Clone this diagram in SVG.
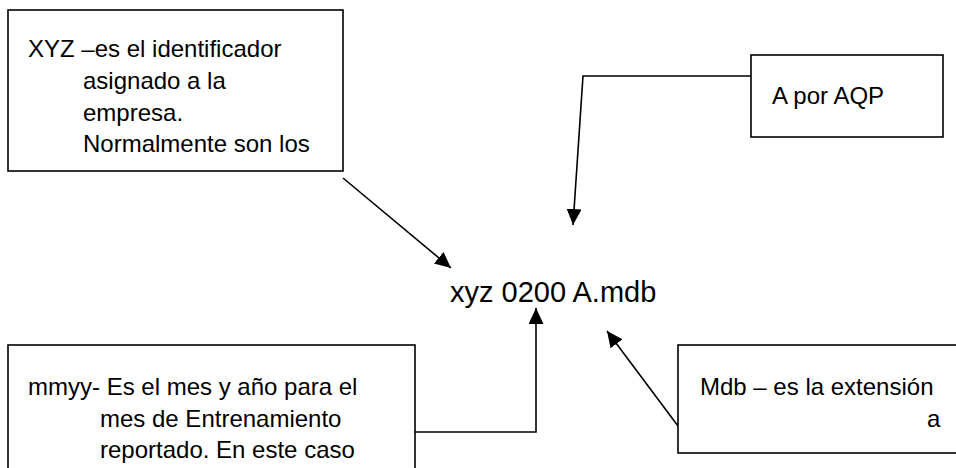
<svg xmlns="http://www.w3.org/2000/svg" width="956" height="468" viewBox="0 0 956 468">
<style>
.box{fill:#fff;stroke:#000;stroke-width:1.6}
.t{font-family:"Liberation Sans",Arial,sans-serif;font-size:24px;fill:#000}
.main{font-family:"Liberation Sans",Arial,sans-serif;font-size:29px;fill:#000}
.c{fill:none;stroke:#000;stroke-width:1.6}
</style>
<defs>
<marker id="ah" markerUnits="userSpaceOnUse" markerWidth="18" markerHeight="18" refX="16" refY="7.5" orient="auto">
<path d="M0,0 L16,7.5 L0,15 Z" fill="#000"/>
</marker>
</defs>
<rect width="956" height="468" fill="#fff"/>
<g id="connectors">
<line class="c" x1="343" y1="178" x2="451" y2="268" marker-end="url(#ah)"/>
<polyline class="c" points="751,76 583,76 573,225" marker-end="url(#ah)"/>
<polyline class="c" points="415,432 536,432 536,308" marker-end="url(#ah)"/>
<line class="c" x1="678" y1="426" x2="607" y2="331" marker-end="url(#ah)"/>
</g>
<g id="box-xyz">
<rect class="box" x="8" y="10" width="335" height="161"/>
<text class="t" x="28" y="57">XYZ –es el identificador</text>
<text class="t" x="83" y="89">asignado a la</text>
<text class="t" x="83" y="121">empresa.</text>
<text class="t" x="83" y="152">Normalmente son los</text>
</g>
<g id="box-aqp">
<rect class="box" x="751" y="55" width="192" height="82"/>
<text class="t" x="772" y="104">A por AQP</text>
</g>
<g id="filename">
<text class="main" x="450" y="302">xyz 0200 A.mdb</text>
</g>
<g id="box-mmyy">
<rect class="box" x="8" y="345" width="407" height="140"/>
<text class="t" x="28" y="395">mmyy- Es el mes y año para el</text>
<text class="t" x="100" y="427">mes de Entrenamiento</text>
<text class="t" x="100" y="458">reportado. En este caso</text>
</g>
<g id="box-mdb">
<rect class="box" x="678" y="345" width="300" height="108"/>
<text class="t" x="700" y="395">Mdb – es la extensión</text>
<text class="t" x="927" y="427">a</text>
</g>
</svg>
